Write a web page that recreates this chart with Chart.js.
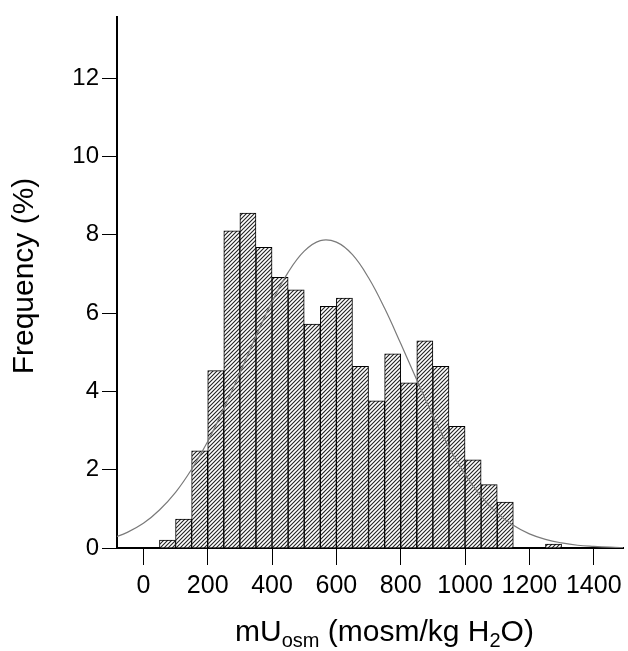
<!DOCTYPE html>
<html>
<head>
<meta charset="utf-8">
<script src="https://cdn.jsdelivr.net/npm/chart.js@4.4.1/dist/chart.umd.min.js"></script>
<style>
  html,body{margin:0;padding:0;background:#fff;}
  #wrap{width:628px;height:651px;}
</style>
</head>
<body>
<div id="wrap"><canvas id="histo" width="628" height="651"></canvas></div>
<script>
// bin centres (mosm/kg H2O), bins are 50 wide
const binCenters=[75,125,175,225,275,325,375,425,475,525,575,625,675,725,775,825,875,925,975,1025,1075,1125,1175,1225,1275];
// frequency in %
const freq=[0.2,0.74,2.48,4.53,8.1,8.55,7.68,6.91,6.59,5.72,6.17,6.38,4.64,3.76,4.96,4.22,5.29,4.64,3.11,2.25,1.62,1.17,0,0,0.1];

// fitted normal curve, every 50 units
const curveX=[-100,-50,0,50,100,150,200,250,300,350,400,450,500,550,600,650,700,750,800,850,900,950,1000,1050,1100,1150,1200,1250,1300,1350,1400,1450,1500];
const curveY=[0.24,0.4,0.63,0.97,1.42,2.01,2.72,3.56,4.47,5.41,6.29,7.04,7.58,7.85,7.81,7.49,6.9,6.12,5.22,4.29,3.38,2.57,1.88,1.32,0.89,0.58,0.36,0.22,0.13,0.07,0.04,0.02,0.01];

const xTicks=[0,200,400,600,800,1000,1200,1400];
const yTicks=[0,2,4,6,8,10,12];

const FONT='"Liberation Sans", Arial, sans-serif';

// hatch fill ////
function hatch()
{
    const c=document.createElement('canvas');
    c.width=4;c.height=4;
    const g=c.getContext('2d');
    g.fillStyle='#fff';
    g.fillRect(0,0,4,4);
    g.strokeStyle='#222';
    g.lineWidth=1.1;
    g.beginPath();
    g.moveTo(0,4);g.lineTo(4,0);
    g.moveTo(-1,1);g.lineTo(1,-1);
    g.moveTo(3,5);g.lineTo(5,3);
    g.stroke();
    return g.createPattern(c,'repeat');
}

// axis titles drawn by hand (subscripts)
const titles={
    id:'titles',
    afterDraw(chart){
        const ctx=chart.ctx;
        ctx.save();
        ctx.fillStyle='#000';
        ctx.textBaseline='alphabetic';
        // y title
        ctx.save();
        ctx.translate(33,276);
        ctx.rotate(-Math.PI/2);
        ctx.font='30px '+FONT;
        ctx.textAlign='center';
        ctx.fillText('Frequency (%)',0,0);
        ctx.restore();
        // x title
        const parts=[['mU',30,0],['osm',20,6],[' (mosm/kg H',30,0],['2',20,6],['O)',30,0]];
        let x=235;
        const base=641;
        ctx.textAlign='left';
        parts.forEach(p=>{
            ctx.font=p[1]+'px '+FONT;
            ctx.fillText(p[0],x,base+p[2]);
            x+=ctx.measureText(p[0]).width;
        });
        ctx.restore();
    }
};

const ctx=document.getElementById('histo');

const data={
    datasets:[
    {
        type:'line',
        data:curveX.map((x,i)=>({x:x,y:curveY[i]})),
        borderColor:'#7a7a7a',
        borderWidth:1.2,
        pointRadius:0,
        tension:0.4,
        fill:false,
        order:0
    },
    {
        type:'bar',
        data:binCenters.map((x,i)=>({x:x,y:freq[i]})),
        backgroundColor:hatch(),
        borderColor:'#000',
        borderWidth:1,
        borderSkipped:'bottom',
        barPercentage:1,
        categoryPercentage:1,
        order:1
    }]
};

const config={
    type:'bar',
    data:data,
    options:{
        responsive:false,
        animation:false,
        devicePixelRatio:1,
        layout:{padding:{left:0,right:5,top:10,bottom:0}},
        plugins:{
            legend:{display:false},
            tooltip:{enabled:false}
        },
        scales:{
            x:{
                type:'linear',
                min:-82,
                max:1491,
                offset:false,
                afterFit:(s)=>{s.height=103;},
                afterBuildTicks:(s)=>{s.ticks=xTicks.map(v=>({value:v}));},
                grid:{display:true,offset:false,drawOnChartArea:false,drawTicks:true,tickLength:17,color:'#000',tickWidth:1},
                border:{display:true,color:'#000',width:2},
                ticks:{color:'#000',font:{family:FONT,size:25},padding:6,maxRotation:0,autoSkip:false,callback:(v)=>String(v)}
            },
            y:{
                min:0,
                max:13.55,
                afterFit:(s)=>{s.width=117;},
                afterBuildTicks:(s)=>{s.ticks=yTicks.map(v=>({value:v}));},
                grid:{display:true,drawOnChartArea:false,drawTicks:true,tickLength:15,color:'#000',tickWidth:1},
                border:{display:true,color:'#000',width:2},
                ticks:{color:'#000',font:{family:FONT,size:24},padding:3,callback:(v)=>String(v)}
            }
        }
    },
    plugins:[titles]
};

const chart=new Chart(ctx,config);
</script>
</body>
</html>
